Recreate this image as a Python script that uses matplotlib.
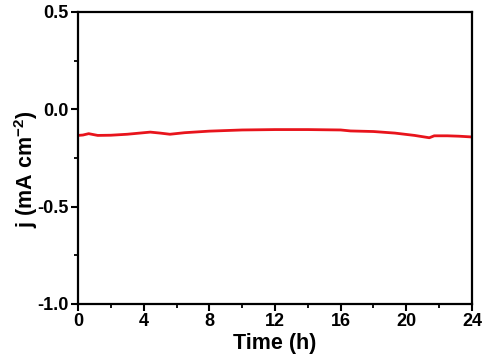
import matplotlib.pyplot as plt
from matplotlib.ticker import MultipleLocator

plt.rcParams['font.family'] = ['Liberation Sans', 'DejaVu Sans']
plt.rcParams['font.weight'] = 'bold'
plt.rcParams['mathtext.fontset'] = 'custom'
plt.rcParams['mathtext.bf'] = 'Liberation Sans:bold'
plt.rcParams['mathtext.rm'] = 'Liberation Sans:bold'

time_h = [0.0, 0.3, 0.65, 1.2, 2.0, 3.0, 4.4, 5.0, 5.6, 6.5, 8.0, 10.0, 12.0,
          14.0, 16.0, 16.6, 18.0, 19.3, 20.5, 21.4, 21.7, 22.5, 23.2, 24.0]
current = [-0.134, -0.132, -0.125, -0.134, -0.133, -0.128, -0.117, -0.122, -0.128,
           -0.120, -0.112, -0.106, -0.104, -0.104, -0.106, -0.111, -0.114, -0.122,
           -0.134, -0.146, -0.136, -0.136, -0.138, -0.142]

fig = plt.figure(figsize=(4.99, 3.63), dpi=100)
ax = fig.add_axes([78 / 499, 1 - 304 / 363, 394 / 499, 292 / 363])

ax.plot(time_h, current, color='#e8141c', linewidth=2.0)

ax.set_xlim(0, 24)
ax.set_ylim(-1.0, 0.5)
ax.xaxis.set_major_locator(MultipleLocator(4))
ax.xaxis.set_minor_locator(MultipleLocator(2))
ax.yaxis.set_major_locator(MultipleLocator(0.5))
ax.yaxis.set_minor_locator(MultipleLocator(0.25))
ax.tick_params(which='major', direction='out', length=5, width=1.5, labelsize=13, pad=1.5)
ax.tick_params(which='minor', direction='out', length=3, width=1.3)
ax.yaxis.set_major_formatter(plt.FuncFormatter(lambda v, p: '%.1f' % v))
for sp in ax.spines.values():
    sp.set_linewidth(1.6)

ax.set_xlabel('Time (h)', fontsize=15.5, fontweight='bold', labelpad=2)
ax.set_ylabel('j (mA cm$^{\\mathbf{-2}}$)', fontsize=15.5, fontweight='bold')
ax.yaxis.set_label_coords(-0.096, 0.46)

fig.savefig('out.png', dpi=100)
